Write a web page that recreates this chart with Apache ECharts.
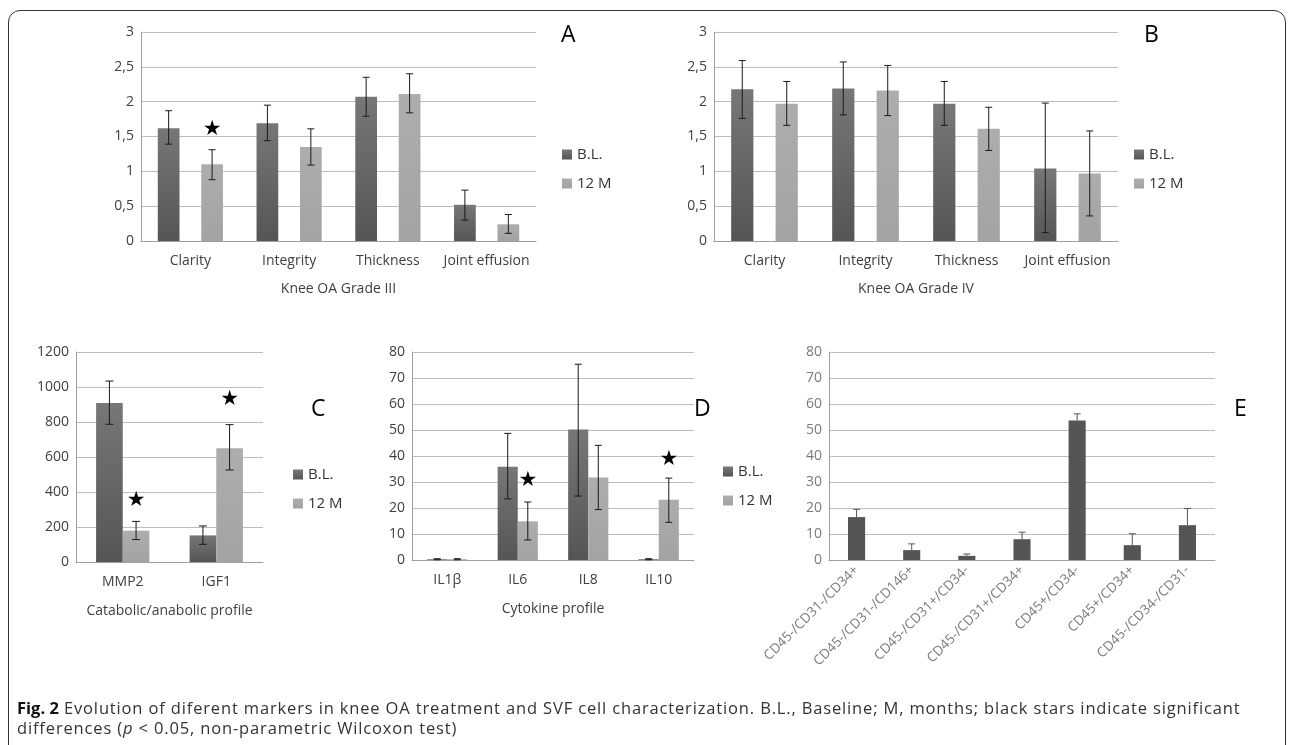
<!DOCTYPE html>
<html>
<head>
<meta charset="utf-8">
<script src="https://cdn.jsdelivr.net/npm/echarts@6/dist/echarts.min.js"></script>
<style>
    body { margin: 0; background: #fff; }
    #frame {
        position: absolute; left: 8px; top: 10px; width: 1278px; height: 760px;
        border: 1.5px solid #333; border-radius: 12px; box-sizing: border-box;
    }
    #chart { position: absolute; left: 0; top: 0; width: 1290px; height: 745px; }
    #caption {
        position: absolute; left: 17px; top: 698px; width: 1250px;
        font-family: "Open Sans", sans-serif; font-size: 16.5px; letter-spacing: 0.85px;
        line-height: 20px; color: #333;
    }
    #caption b { color: #111; letter-spacing: 0; }
</style>
</head>
<body>
<div id="frame"></div>
<div id="chart"></div>
<div id="caption"><b>Fig. 2</b> Evolution of diferent markers in knee OA treatment and SVF cell characterization. B.L., Baseline; M, months; black stars indicate significant differences (<i>p</i> &lt; 0.05, non-parametric Wilcoxon test)</div>
<script>
    // 膝关节 OA 分级 III / IV
    const kneeCats = ['Clarity', 'Integrity', 'Thickness', 'Joint effusion'];
    const g3BL = [1.62, 1.69, 2.07, 0.52];
    const g3BLlo = [1.39, 1.44, 1.79, 0.30];
    const g3BLhi = [1.87, 1.95, 2.35, 0.73];
    const g3M12 = [1.10, 1.35, 2.11, 0.24];
    const g3M12lo = [0.88, 1.09, 1.84, 0.11];
    const g3M12hi = [1.31, 1.61, 2.40, 0.38];
    const g3Stars = [[0, 1.60]];

    const g4BL = [2.18, 2.19, 1.97, 1.04];
    const g4BLlo = [1.76, 1.81, 1.66, 0.12];
    const g4BLhi = [2.59, 2.57, 2.29, 1.98];
    const g4M12 = [1.97, 2.16, 1.61, 0.97];
    const g4M12lo = [1.66, 1.80, 1.30, 0.36];
    const g4M12hi = [2.29, 2.52, 1.92, 1.58];

    // catabolic / anabolic
    const profCats = ['MMP2', 'IGF1'];
    const profBL = [908, 152];
    const profBLlo = [787, 101];
    const profBLhi = [1034, 206];
    const profM12 = [179, 650];
    const profM12lo = [128, 526];
    const profM12hi = [232, 785];
    const profStars = [[0, 352], [1, 930]];

    // cytokines
    const cytoCats = ['IL1β', 'IL6', 'IL8', 'IL10'];
    const cytoBL = [0.3, 35.9, 50.2, 0.3];
    const cytoBLlo = [0.1, 23.5, 24.6, 0.1];
    const cytoBLhi = [0.5, 48.7, 75.3, 0.5];
    const cytoM12 = [0.3, 14.9, 31.7, 23.2];
    const cytoM12lo = [0.1, 7.7, 19.4, 14.5];
    const cytoM12hi = [0.5, 22.3, 44.1, 31.5];
    const cytoStars = [[1, 30.6], [3, 38.6]];

    // SVF cells
    const svfCats = ['CD45-/CD31-/CD34+', 'CD45-/CD31-/CD146+', 'CD45-/CD31+/CD34-', 'CD45-/CD31+/CD34+',
        'CD45+/CD34-', 'CD45+/CD34+', 'CD45-/CD34-/CD31-'];
    const svfVals = [16.5, 3.8, 1.6, 8.0, 53.7, 5.7, 13.4];
    const svfHi = [19.5, 6.2, 2.3, 10.7, 56.2, 10.1, 19.8];

    const FONT = '"Open Sans", sans-serif';
    const darkFill = {type: 'linear', x: 0, y: 0, x2: 0, y2: 1,
        colorStops: [{offset: 0, color: '#777'}, {offset: 1, color: '#555'}]};
    const lightFill = {type: 'linear', x: 0, y: 0, x2: 0, y2: 1,
        colorStops: [{offset: 0, color: '#adadad'}, {offset: 1, color: '#a3a3a3'}]};

    function zip3(a, b, c) {
        return a.map((v, i) => [i, b[i], c[i]]);
    }

    // 误差线
    function errRender(frac, cap) {
        return function (params, api) {
            let bw = api.size([1, 0])[0];
            let p1 = api.coord([api.value(0), api.value(1)]);
            let p2 = api.coord([api.value(0), api.value(2)]);
            let x = p1[0] + frac * bw;
            let st = {stroke: '#1a1a1a', lineWidth: 1};
            return {
                type: 'group',
                children: [
                    {type: 'line', shape: {x1: x, y1: p1[1], x2: x, y2: p2[1]}, style: st},
                    {type: 'line', shape: {x1: x - cap, y1: p2[1], x2: x + cap, y2: p2[1]}, style: st},
                    {type: 'line', shape: {x1: x - cap, y1: p1[1], x2: x + cap, y2: p1[1]}, style: st}
                ]
            };
        };
    }

    function errUpRender(cap) {
        return function (params, api) {
            let p1 = api.coord([api.value(0), api.value(1)]);
            let p2 = api.coord([api.value(0), api.value(2)]);
            let st = {stroke: '#555', lineWidth: 1};
            return {
                type: 'group',
                children: [
                    {type: 'line', shape: {x1: p1[0], y1: p1[1], x2: p1[0], y2: p2[1]}, style: st},
                    {type: 'line', shape: {x1: p1[0] - cap, y1: p2[1], x2: p1[0] + cap, y2: p2[1]}, style: st}
                ]
            };
        };
    }

    function starRender(frac) {
        return function (params, api) {
            let bw = api.size([1, 0])[0];
            let p = api.coord([api.value(0), api.value(1)]);
            return {
                type: 'text',
                style: {
                    text: '★', x: p[0] + frac * bw, y: p[1], align: 'center', verticalAlign: 'middle',
                    fontSize: 21, fontFamily: 'DejaVu Sans', fill: '#000'
                }
            };
        };
    }

    function xAx(idx, cats, name, extra) {
        return Object.assign({
            type: 'category', gridIndex: idx, data: cats,
            axisLine: {lineStyle: {color: '#a0a0a0'}},
            axisTick: {length: 5, lineStyle: {color: '#a0a0a0'}},
            axisLabel: {color: '#404040', fontSize: 14, fontFamily: FONT, margin: 13, interval: 0},
            name: name, nameLocation: 'middle', nameGap: 41,
            nameTextStyle: {color: '#404040', fontSize: 14, fontFamily: FONT}
        }, extra || {});
    }

    function yAx(idx, max, interval, comma, color) {
        return {
            type: 'value', gridIndex: idx, min: 0, max: max, interval: interval,
            axisLine: {show: true, lineStyle: {color: '#a0a0a0'}},
            axisTick: {show: false},
            splitLine: {lineStyle: {color: '#bdbdbd'}},
            axisLabel: {
                color: color || '#404040', fontSize: 14, fontFamily: FONT, margin: 7,
                formatter: v => comma ? String(v).replace('.', ',') : String(v)
            }
        };
    }

    function pairSeries(idx, bl, m12, blLo, blHi, mLo, mHi, width, gap, frac, cap) {
        return [
            {name: 'B.L.', type: 'bar', xAxisIndex: idx, yAxisIndex: idx, data: bl,
                barWidth: width, barGap: gap, itemStyle: {color: darkFill}},
            {name: '12 M', type: 'bar', xAxisIndex: idx, yAxisIndex: idx, data: m12,
                barWidth: width, barGap: gap, itemStyle: {color: lightFill}},
            {type: 'custom', xAxisIndex: idx, yAxisIndex: idx, z: 5,
                renderItem: errRender(-frac, cap), data: zip3(bl, blLo, blHi)},
            {type: 'custom', xAxisIndex: idx, yAxisIndex: idx, z: 5,
                renderItem: errRender(frac, cap), data: zip3(m12, mLo, mHi)}
        ];
    }

    function legendAt(left, top) {
        return {
            data: ['B.L.', '12 M'], orient: 'vertical', left: left, top: top,
            icon: 'rect', itemWidth: 10, itemHeight: 10, itemGap: 14, itemStyle: {borderWidth: 0},
            selectedMode: false,
            textStyle: {color: '#333', fontSize: 15, fontFamily: FONT}
        };
    }

    function letter(text, left, top) {
        return {type: 'text', left: left, top: top,
            style: {text: text, fontSize: 23, fontFamily: FONT, fill: '#000'}};
    }

    let myChart = echarts.init(document.getElementById('chart'));

    let option = {
        animation: false,
        grid: [
            {left: 141, top: 32, width: 395, height: 209},
            {left: 714, top: 32, width: 404, height: 209},
            {left: 76, top: 352, width: 187, height: 210},
            {left: 412, top: 352, width: 282, height: 208},
            {left: 829, top: 352, width: 386, height: 208}
        ],
        legend: [
            legendAt(557, 142),
            legendAt(1129, 142),
            legendAt(288, 462),
            legendAt(718, 459)
        ],
        xAxis: [
            xAx(0, kneeCats, 'Knee OA Grade III'),
            xAx(1, kneeCats, 'Knee OA Grade IV'),
            xAx(2, profCats, 'Catabolic/anabolic profile', {nameGap: 42}),
            xAx(3, cytoCats, 'Cytokine profile', {nameGap: 42}),
            xAx(4, svfCats, '', {
                axisLabel: {color: '#7a7a7a', fontSize: 13.5, fontFamily: FONT, rotate: 45, margin: 8, interval: 0}
            })
        ],
        yAxis: [
            yAx(0, 3, 0.5, true),
            yAx(1, 3, 0.5, true),
            yAx(2, 1200, 200),
            yAx(3, 80, 10),
            yAx(4, 80, 10, false, '#7a7a7a')
        ],
        graphic: [
            letter('A', 561, 24),
            letter('B', 1144, 24),
            letter('C', 311, 398),
            letter('D', 694, 398),
            letter('E', 1234, 398)
        ],
        series: [].concat(
            pairSeries(0, g3BL, g3M12, g3BLlo, g3BLhi, g3M12lo, g3M12hi, '22%', '100%', 0.22, 3.5),
            pairSeries(1, g4BL, g4M12, g4BLlo, g4BLhi, g4M12lo, g4M12hi, '22%', '100%', 0.22, 3.5),
            pairSeries(2, profBL, profM12, profBLlo, profBLhi, profM12lo, profM12hi, '28.5%', '0%', 0.1425, 4),
            pairSeries(3, cytoBL, cytoM12, cytoBLlo, cytoBLhi, cytoM12lo, cytoM12hi, '28.5%', '0%', 0.1425, 3.5),
            [
                {type: 'custom', xAxisIndex: 0, yAxisIndex: 0, z: 6, renderItem: starRender(0.22), data: g3Stars},
                {type: 'custom', xAxisIndex: 2, yAxisIndex: 2, z: 6, renderItem: starRender(0.1425), data: profStars},
                {type: 'custom', xAxisIndex: 3, yAxisIndex: 3, z: 6, renderItem: starRender(0.1425), data: cytoStars},
                {name: 'SVF', type: 'bar', xAxisIndex: 4, yAxisIndex: 4, data: svfVals,
                    barWidth: '31%', itemStyle: {color: '#555'}},
                {type: 'custom', xAxisIndex: 4, yAxisIndex: 4, z: 5, renderItem: errUpRender(3.5),
                    data: svfVals.map((v, i) => [i, v, svfHi[i]])}
            ]
        )
    };

    myChart.setOption(option);
</script>
</body>
</html>
